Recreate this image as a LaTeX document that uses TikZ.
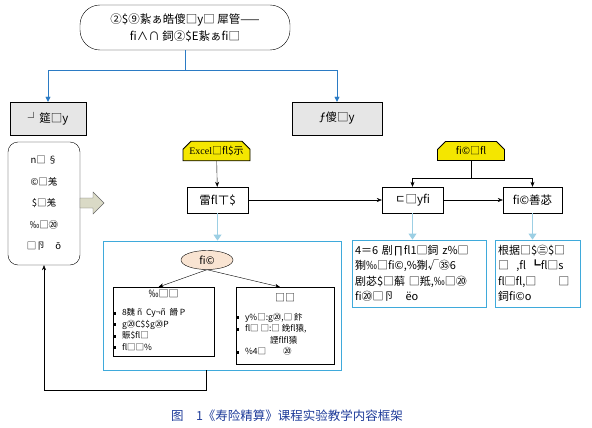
\documentclass[tikz,border=0pt]{standalone}
\usepackage{fontspec}
\setmainfont{Noto Sans CJK SC}
\newfontfamily\tms{Liberation Serif}
\usetikzlibrary{arrows.meta,positioning,shapes.geometric,shapes.misc}
\definecolor{linkblue}{HTML}{2B7BC4}
\definecolor{paleblue}{HTML}{9CCFE4}
\definecolor{framecyan}{HTML}{3FAADB}
\definecolor{tagyellow}{HTML}{F4E600}
\definecolor{boxgray}{HTML}{E6E6E6}
\definecolor{ovalpeach}{HTML}{F9E4D2}
\definecolor{hollowfill}{HTML}{DADAC6}
\definecolor{captionblue}{HTML}{1F3C9A}
\tikzset{
	graybox/.style={draw, fill=boxgray, minimum height=33, inner sep=2, font=\fontsize{11.5}{13}\selectfont},
	tag/.style={chamfered rectangle, chamfered rectangle corners={north west,north east}, chamfered rectangle sep=4pt, draw, line width=0.8pt, fill=tagyellow, minimum width=67, minimum height=19, inner sep=1, font=\fontsize{10}{12}\selectfont},
	stepbox/.style={draw, minimum width=61, minimum height=26, font=\fontsize{11.5}{13}\selectfont},
	frame/.style={draw=framecyan, line width=0.8pt},
	note/.style={frame, align=left, inner sep=3, font=\fontsize{11}{15.5}\selectfont},
	inbox/.style={draw, inner xsep=0, inner ysep=2, anchor=north, font=\fontsize{8.5}{11.5}\selectfont},
	pale/.style={paleblue, line width=0.8pt, -{Triangle[length=6pt,width=8pt]}},
}
\newcommand{\bul}{\rule[1pt]{3pt}{3pt}\hspace{6pt}}

\begin{document}
\begin{tikzpicture}[x=1pt, y=-1pt, >={Stealth[length=5pt,width=4pt]}, font=\fontsize{11.5}{17}\selectfont]
	\useasboundingbox (0,0) rectangle (592,428);
	\node (aim) [draw, rounded corners=20pt, minimum width=210, minimum height=45, align=center] at (185,27.5) {②\$⑨紥ぁ皓傻□y□ 犀管——\\ﬁ∧∩ 鉰②\$E紥ぁﬁ□};
	\node (basic) [graybox, minimum width=76] at (48,118.5) {┘筵□y};
	\node (design) [graybox, minimum width=90] at (337,118.5) {ƒ傻□y};

	\node (steps) [draw, rounded corners=10pt, minimum width=72, minimum height=123, align=center, font=\fontsize{9.5}{21.5}\selectfont] at (44,203.5) {n□ §\\©□羗\\\$□羗\\‰□⑳\\□卪\quad ō};
	\draw[gray!80!black, fill=hollowfill] (80,198) -- (93,198) -- (93,192) -- (104,203) -- (93,214) -- (93,208) -- (80,208) -- cycle;

	\node (tagexcel) [tag] at (216.5,151) {{\tms Excel}□ﬂ\$示};
	\node (sheet) [stepbox] at (217.5,200) {雷ﬂㄒ\$};
	\node (tagcase) [tag] at (471,151) {ﬁ©□ﬂ};
	\node (model) [stepbox] at (412.5,200) {ㄷ□yﬁ};
	\node (result) [stepbox, minimum width=59] at (532.5,200) {ﬁ©善苾};

	\node (labframe) [frame, minimum width=238, minimum height=129] at (222,305.5) {};
	\node (lab) [ellipse, draw, fill=ovalpeach, minimum width=52, minimum height=19, inner sep=0, font=\fontsize{10.5}{12}\selectfont] at (207,260) {ﬁ©};
	\node (theory) [inbox, minimum height=67] at (163.5,287) {\begin{tabular}{@{}p{101pt}@{}}\multicolumn{1}{@{}c@{}}{\fontsize{10}{11}\selectfont‰□□}\\[7pt]\bul 8魏 ñ\ \ Cy¬ñ\ \ 餶 P\\\bul g⑳C\$\$g⑳P\\\bul 賑\$ﬂ□\\\bul ﬂ□□\%\end{tabular}};
	\node (practice) [inbox, minimum height=77] at (285,287) {\begin{tabular}{@{}p{98pt}@{}}\multicolumn{1}{@{}c@{}}{\fontsize{10}{11}\selectfont□□}\\[7pt]\bul y\%□:g⑳,□ 飰\\\bul ﬂ□ □:□ 鋔ﬂ猿,\\\hspace*{34pt}諲ﬂﬂ猿\\\bul \%4□\qquad ⑳\end{tabular}};

	\node (formula) [note, text width=128, minimum height=67] at (419,273.5) {4＝6 剧∏ﬂ1□鉰 z\%□\\猘‰□ﬁ©,\%猘√㉟6\\剧苾\$□蔛 □羝,‰□⑳\\ﬁ⑳□卪\quad ëo};
	\node (explain) [note, text width=79, minimum height=67] at (537.5,273.5) {根据□\$㊂\$□\\□\ \ ,ﬂ ┗ﬂ□s\\ﬂ□ﬂ,□\qquad □\\鉰ﬁ©o};

	\node (caption) [text=captionblue, font=\fontsize{12.5}{14}\selectfont] at (287,416) {图\quad 1《寿险精算》课程实验教学内容框架};

	\draw[linkblue, -{Triangle[length=5pt,width=5pt]}] (aim.south) -- ++(0,20) -| (basic.north);
	\draw[linkblue, -{Triangle[length=5pt,width=5pt]}] (aim.south) -- ++(0,20) -| (design.north);
	\draw[->] (tagexcel) -- (sheet);
	\draw[->] (sheet) -- (model);
	\draw[->] (model) -- (result);
	\draw (tagcase.south) -- ++(0,17) coordinate (fork);
	\draw[->] (fork) -| (model.north);
	\draw[->] (fork) -| (result.north);
	\draw[pale] (sheet.south) -- (sheet.south |- labframe.north);
	\draw[pale] (model.south) -- (model.south |- formula.north);
	\draw[pale] (result.south) -- (result.south |- explain.north);
	\draw[->] (lab.south) -- ([xshift=-5]theory.north);
	\draw[->] (lab.south) -- ([xshift=-5]practice.north);
	\draw[->] ([xshift=-16]labframe.south) -- ++(0,20) -| (steps.south);
\end{tikzpicture}
\end{document}
